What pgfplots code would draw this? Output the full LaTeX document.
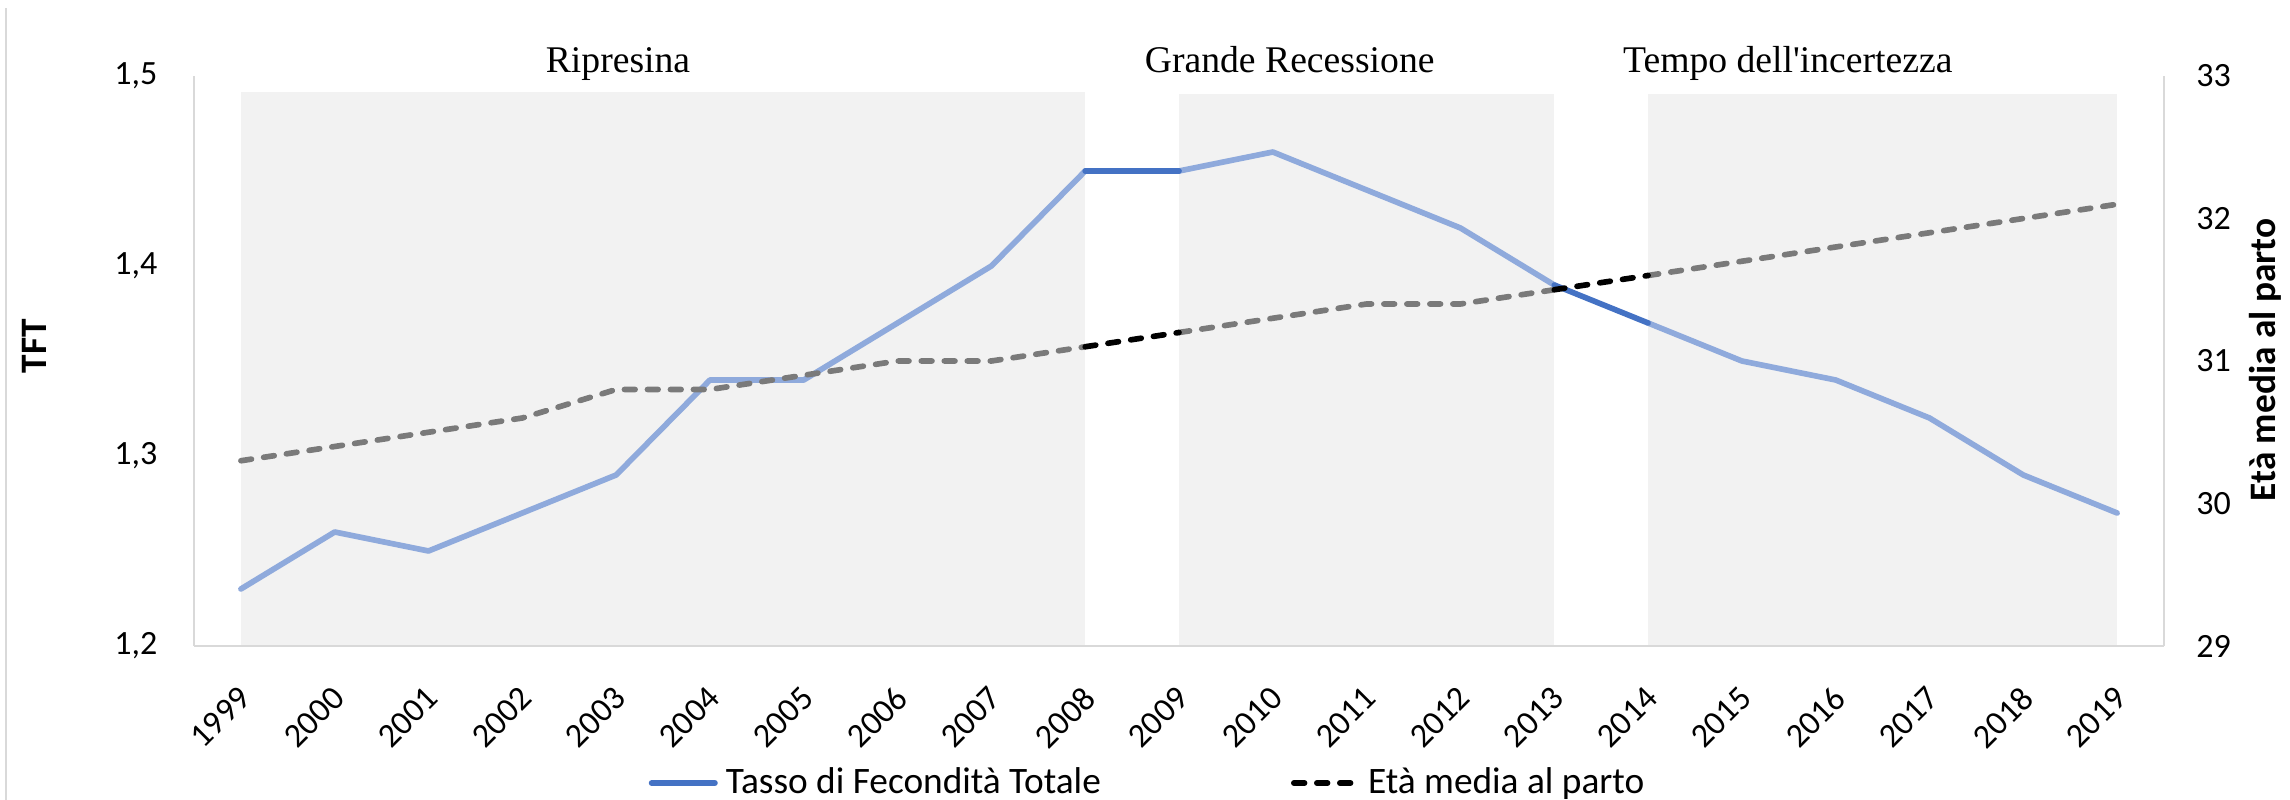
\documentclass[border=0pt]{standalone}
\usepackage{pgfplots}
\pgfplotsset{compat=1.18}
\usepackage{pgfplotstable}
\usepackage{fontspec}
\setmainfont{Carlito}
\newfontfamily\timesfont{Liberation Serif}
\definecolor{lblue}{HTML}{8FAADC}
\definecolor{dblue}{HTML}{4472C4}
\definecolor{dgrey}{HTML}{7A7A7A}
\definecolor{shade}{HTML}{F2F2F2}
\definecolor{axgrey}{HTML}{D9D9D9}

\pgfplotstableread{
year tft eta
1999 1.23 30.3
2000 1.26 30.4
2001 1.25 30.5
2002 1.27 30.6
2003 1.29 30.8
2004 1.34 30.8
2005 1.34 30.9
2006 1.37 31.0
2007 1.40 31.0
2008 1.45 31.1
2009 1.45 31.2
2010 1.46 31.3
2011 1.44 31.4
2012 1.42 31.4
2013 1.39 31.5
2014 1.37 31.6
2015 1.35 31.7
2016 1.34 31.8
2017 1.32 31.9
2018 1.29 32.0
2019 1.27 32.1
}\data

\pgfplotsset{
  common/.style={
    scale only axis, width=591pt, height=171pt,
    at={(58.2pt,46.2pt)}, anchor=south west,
    xmin=1998.5, xmax=2019.5, clip=false,
    major tick length=0pt,
    ticklabel style={font=\fontsize{10.2}{12}\selectfont},
    /pgf/number format/assume math mode=true,
    axis line style={axgrey, line width=0.75pt, -},
    label style={font=\bfseries\fontsize{11.2}{13}\selectfont},
  },
  tftl/.style={line width=1.7pt, line join=round, line cap=round},
  etal/.style={line width=1.7pt, line join=round, line cap=round, dash pattern=on 3.2pt off 3.7pt},
}

\begin{document}
\begin{tikzpicture}
\useasboundingbox (0,0) rectangle (687pt,240pt);
\draw[axgrey, line width=0.6pt] (1.8pt,0) -- (1.8pt,237.6pt);

\begin{axis}[common,
  ymin=1.2, ymax=1.5,
  axis on top,
  axis x line*=bottom, axis y line*=left,
  xtick={1999,...,2019},
  xticklabel style={/pgf/number format/1000 sep={}, inner sep=0pt, xshift=-1.2pt, yshift=-11.4pt, rotate=45, anchor=north east},
  ytick={1.2,1.3,1.4,1.5},
  yticklabel style={/pgf/number format/fixed, /pgf/number format/fixed zerofill, /pgf/number format/precision=1, /pgf/number format/use comma, inner sep=0pt, anchor=east, xshift=-10.8pt},
  ylabel={TFT},
  ylabel style={at={(axis description cs:-0.0812,0.526)}, anchor=center},
  legend columns=2,
  legend image code/.code={\draw[#1] (0.85pt,0pt) -- (19.85pt,0pt);},
  legend style={at={(axis description cs:0.2305,-0.2404)}, anchor=west, draw=none, fill=none, inner sep=0pt,
    font=\fontsize{11.2}{13}\selectfont, nodes={inner sep=0pt},
    /tikz/every odd column/.style={column sep=2.4pt},
    /tikz/every even column/.style={column sep=57pt}},
]
\addplot[fill=shade, draw=none, forget plot] coordinates {(1999,1.2) (1999,1.4916) (2008,1.4916) (2008,1.2)} -- cycle;
\addplot[fill=shade, draw=none, forget plot] coordinates {(2009,1.2) (2009,1.4905) (2013,1.4905) (2013,1.2)} -- cycle;
\addplot[fill=shade, draw=none, forget plot] coordinates {(2014,1.2) (2014,1.4905) (2019,1.4905) (2019,1.2)} -- cycle;

\addplot[lblue, tftl, forget plot, restrict x to domain=1999:2008] table[x=year, y=tft] {\data};
\addplot[lblue, tftl, forget plot, restrict x to domain=2009:2013] table[x=year, y=tft] {\data};
\addplot[lblue, tftl, forget plot, restrict x to domain=2014:2019] table[x=year, y=tft] {\data};
\addplot[dblue, tftl, forget plot, restrict x to domain=2008:2009] table[x=year, y=tft] {\data};
\addplot[dblue, tftl, forget plot, restrict x to domain=2013:2014] table[x=year, y=tft] {\data};

\node[font=\timesfont\fontsize{11.3}{13}\selectfont, anchor=base] at (axis cs:2003.02,1.5021) {Ripresina};
\node[font=\timesfont\fontsize{11.3}{13}\selectfont, anchor=base] at (axis cs:2010.18,1.5021) {Grande Recessione};
\node[font=\timesfont\fontsize{11.3}{13}\selectfont, anchor=base] at (axis cs:2015.49,1.5021) {Tempo dell\textquotesingle incertezza};

\addlegendimage{dblue, line width=1.7pt, line cap=round}
\addlegendentry{Tasso di Fecondità Totale}
\addlegendimage{black, line width=1.7pt, line cap=round, dash pattern=on 3.2pt off 3.7pt}
\addlegendentry{Età media al parto}
\end{axis}

\begin{axis}[common,
  ymin=29, ymax=33,
  axis x line=none, axis y line*=right,
  ytick={29,30,31,32,33},
  yticklabel style={inner sep=0pt, anchor=west, xshift=9.5pt},
  ylabel={Età media al parto},
  ylabel style={at={(axis description cs:1.0513,0.502)}, anchor=center},
]
\addplot[dgrey, etal, restrict x to domain=1999:2008] table[x=year, y=eta] {\data};
\addplot[dgrey, etal, restrict x to domain=2009:2013] table[x=year, y=eta] {\data};
\addplot[dgrey, etal, restrict x to domain=2014:2019] table[x=year, y=eta] {\data};
\addplot[black, etal, restrict x to domain=2008:2009] table[x=year, y=eta] {\data};
\addplot[black, etal, restrict x to domain=2013:2014] table[x=year, y=eta] {\data};
\end{axis}
\end{tikzpicture}
\end{document}
